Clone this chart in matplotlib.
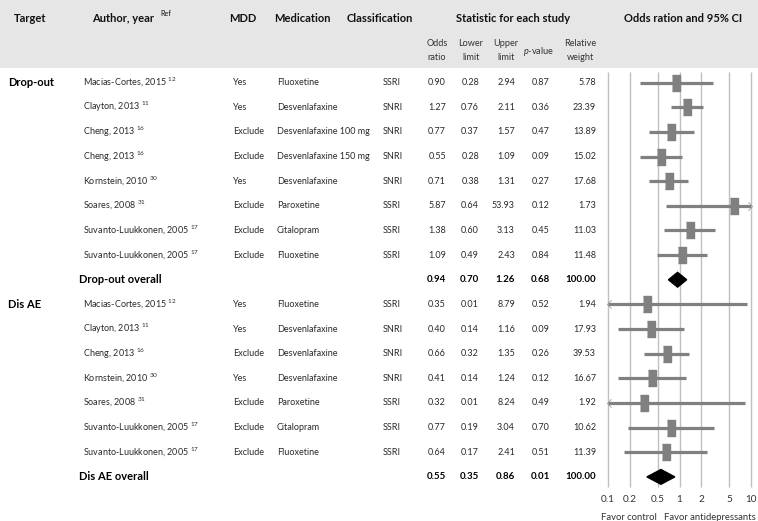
# Forest plot: antidepressants vs control, drop-out and discontinuation due to AE

import numpy as np
import matplotlib.pyplot as plt
from matplotlib import transforms
from matplotlib.patches import Rectangle
from matplotlib.path import Path

plt.rcParams['font.family'] = 'Lato'
plt.rcParams['mathtext.fontset'] = 'custom'
plt.rcParams['mathtext.rm'] = 'Lato'
plt.rcParams['mathtext.it'] = 'Lato:italic'
plt.rcParams['mathtext.bf'] = 'Lato:bold'

# ---- data ----
targets = ['Drop-out', 'Dis AE']
authors = ['Macias-Cortes, 2015', 'Clayton, 2013', 'Cheng, 2013', 'Cheng, 2013',
           'Kornstein, 2010', 'Soares, 2008', 'Suvanto-Luukkonen, 2005',
           'Suvanto-Luukkonen, 2005',
           'Macias-Cortes, 2015', 'Clayton, 2013', 'Cheng, 2013', 'Kornstein, 2010',
           'Soares, 2008', 'Suvanto-Luukkonen, 2005', 'Suvanto-Luukkonen, 2005']
refs = ['12', '11', '16', '16', '30', '31', '17', '17',
        '12', '11', '16', '30', '31', '17', '17']
mdd = ['Yes', 'Yes', 'Exclude', 'Exclude', 'Yes', 'Exclude', 'Exclude', 'Exclude',
       'Yes', 'Yes', 'Exclude', 'Yes', 'Exclude', 'Exclude', 'Exclude']
medication = ['Fluoxetine', 'Desvenlafaxine', 'Desvenlafaxine 100 mg',
              'Desvenlafaxine 150 mg', 'Desvenlafaxine', 'Paroxetine', 'Citalopram',
              'Fluoxetine',
              'Fluoxetine', 'Desvenlafaxine', 'Desvenlafaxine', 'Desvenlafaxine',
              'Paroxetine', 'Citalopram', 'Fluoxetine']
classification = ['SSRI', 'SNRI', 'SNRI', 'SNRI', 'SNRI', 'SSRI', 'SSRI', 'SSRI',
                  'SSRI', 'SNRI', 'SNRI', 'SNRI', 'SSRI', 'SSRI', 'SSRI']
odds = [0.90, 1.27, 0.77, 0.55, 0.71, 5.87, 1.38, 1.09,
        0.35, 0.40, 0.66, 0.41, 0.32, 0.77, 0.64]
lower = [0.28, 0.76, 0.37, 0.28, 0.38, 0.64, 0.60, 0.49,
         0.01, 0.14, 0.32, 0.14, 0.01, 0.19, 0.17]
upper = [2.94, 2.11, 1.57, 1.09, 1.31, 53.93, 3.13, 2.43,
         8.79, 1.16, 1.35, 1.24, 8.24, 3.04, 2.41]
pval = [0.87, 0.36, 0.47, 0.09, 0.27, 0.12, 0.45, 0.84,
        0.52, 0.09, 0.26, 0.12, 0.49, 0.70, 0.51]
weight = [5.78, 23.39, 13.89, 15.02, 17.68, 1.73, 11.03, 11.48,
          1.94, 17.93, 39.53, 16.67, 1.92, 10.62, 11.39]
group_size = [8, 7]

overall_labels = ['Drop-out overall', 'Dis AE overall']
overall_odds = [0.94, 0.55]
overall_lower = [0.70, 0.35]
overall_upper = [1.26, 0.86]
overall_p = [0.68, 0.01]
overall_weight = [100.00, 100.00]

ticks = [0.1, 0.2, 0.5, 1, 2, 5, 10]
tick_labels = ['0.1', '0.2', '0.5', '1', '2', '5', '10']

# ---- layout ----
W, H = 758, 521
fig = plt.figure(figsize=(W / 100, H / 100), dpi=100)
ax = fig.add_axes([608 / W, 1 - 487 / H, 143 / W, 415 / H])
xmin, xmax = 0.1, 10

# header band
fig.patches.append(Rectangle((0, 1 - 68 / H), 1, 68 / H, transform=fig.transFigure,
                             facecolor='#e6e6e6', edgecolor='none', zorder=0))

def fx(px):
    return px / W

def fy(py):
    return 1 - py / H

hdr = dict(fontsize=8.0, fontweight='bold', va='center', color='#111111')
fig.text(fx(14), fy(18), 'Target', **hdr)
fig.text(fx(92), fy(18), 'Author, year', **hdr)
fig.text(fx(160), fy(14), 'Ref', fontsize=5.2, va='center', color='#111111')
fig.text(fx(229), fy(18), 'MDD', **hdr)
fig.text(fx(274), fy(18), 'Medication', **hdr)
fig.text(fx(347), fy(18), 'Classification', **hdr)
fig.text(fx(513), fy(18), 'Statistic for each study', ha='center', **hdr)
fig.text(fx(683), fy(18), 'Odds ration and 95% CI', ha='center', **hdr)

sub = dict(fontsize=6.6, ha='center', va='center', color='#333333', linespacing=1.65)
fig.text(fx(437), fy(50.5), 'Odds\nratio', **sub)
fig.text(fx(471), fy(50.5), 'Lower\nlimit', **sub)
fig.text(fx(506), fy(50.5), 'Upper\nlimit', **sub)
fig.text(fx(539), fy(51), '$p$-value', **sub)
fig.text(fx(580), fy(50.5), 'Relative\nweight', **sub)

# ---- rows ----
trans = transforms.blended_transform_factory(fig.transFigure, ax.transData)
body = dict(fontsize=6.5, va='center', color='#2a2a2a', transform=trans)
bold = dict(fontsize=7.0, va='center', fontweight='bold', color='#000000', transform=trans)

def stats(row, vals, style):
    o, l, u, p, w = vals
    fig.text(fx(446), row, f'{o:.2f}', ha='right', **style)
    fig.text(fx(479), row, f'{l:.2f}', ha='right', **style)
    fig.text(fx(515), row, f'{u:.2f}', ha='right', **style)
    fig.text(fx(550), row, f'{p:.2f}', ha='right', **style)
    fig.text(fx(596), row, f'{w:.2f}', ha='right', **style)

grey = '#808080'
rect = [(-0.24, -0.5), (0.24, -0.5), (0.24, 0.5), (-0.24, 0.5)]
right_chev = Path([(-0.5, 1), (0.5, 0), (-0.5, -1)],
                  [Path.MOVETO, Path.LINETO, Path.LINETO])
left_chev = Path([(0.5, 1), (-0.5, 0), (0.5, -1)],
                 [Path.MOVETO, Path.LINETO, Path.LINETO])
row = 0
i = 0
for g, n in enumerate(group_size):
    fig.text(fx(8), row, targets[g], fontsize=8.0, fontweight='bold', va='center',
             color='#000000', transform=trans)
    for k in range(n):
        fig.text(fx(83), row, authors[i] + ' $^{' + refs[i] + '}$', **body)
        fig.text(fx(233), row, mdd[i], **body)
        fig.text(fx(277), row, medication[i], **body)
        fig.text(fx(383), row, classification[i], **body)
        stats(row, (odds[i], lower[i], upper[i], pval[i], weight[i]), body)

        lo = max(lower[i], xmin)
        hi = min(upper[i], xmax)
        ax.plot([lo, hi], [row, row], color=grey, lw=2.3, solid_capstyle='butt', zorder=3)
        ax.plot(odds[i], row, marker=rect, markersize=11, color=grey, zorder=4)
        if upper[i] > xmax:
            ax.plot(xmax * 0.97, row, marker=right_chev, markersize=6, mfc='none',
                    mec='#9a9a9a', mew=0.6, clip_on=False, zorder=5)
        if lower[i] < xmin:
            ax.plot(xmin * 1.03, row, marker=left_chev, markersize=6, mfc='none',
                    mec='#9a9a9a', mew=0.6, clip_on=False, zorder=5)
        row += 1
        i += 1
    fig.text(fx(79), row, overall_labels[g], fontsize=8.0, fontweight='bold',
             va='center', color='#000000', transform=trans)
    stats(row, (overall_odds[g], overall_lower[g], overall_upper[g],
                overall_p[g], overall_weight[g]), bold)
    h = 0.3
    ax.fill([overall_lower[g], overall_odds[g], overall_upper[g], overall_odds[g]],
            [row, row - h, row, row + h], color='black', zorder=4)
    row += 1

# ---- axes ----
ax.set_xscale('log')
ax.set_xlim(xmin, xmax)
ax.set_ylim(row - 1 + 0.41, -0.43)
ax.vlines(ticks, row - 1 + 0.41, -0.43, color='#c0c0c0', lw=1.0, zorder=1, clip_on=False)
ax.minorticks_off()
ax.set_xticks(ticks)
ax.set_xticklabels(tick_labels)
ax.set_yticks([])
ax.tick_params(axis='x', length=0, pad=5.5, labelsize=7.2, colors='#333333')
for s in ax.spines.values():
    s.set_visible(False)
ax.patch.set_visible(False)

fig.text(fx(629), fy(517), 'Favor control', ha='center', va='center',
         fontsize=6.8, color='#333333')
fig.text(fx(710), fy(517), 'Favor antidepressants', ha='center', va='center',
         fontsize=6.8, color='#333333')

fig.savefig('out.png', dpi=100)
